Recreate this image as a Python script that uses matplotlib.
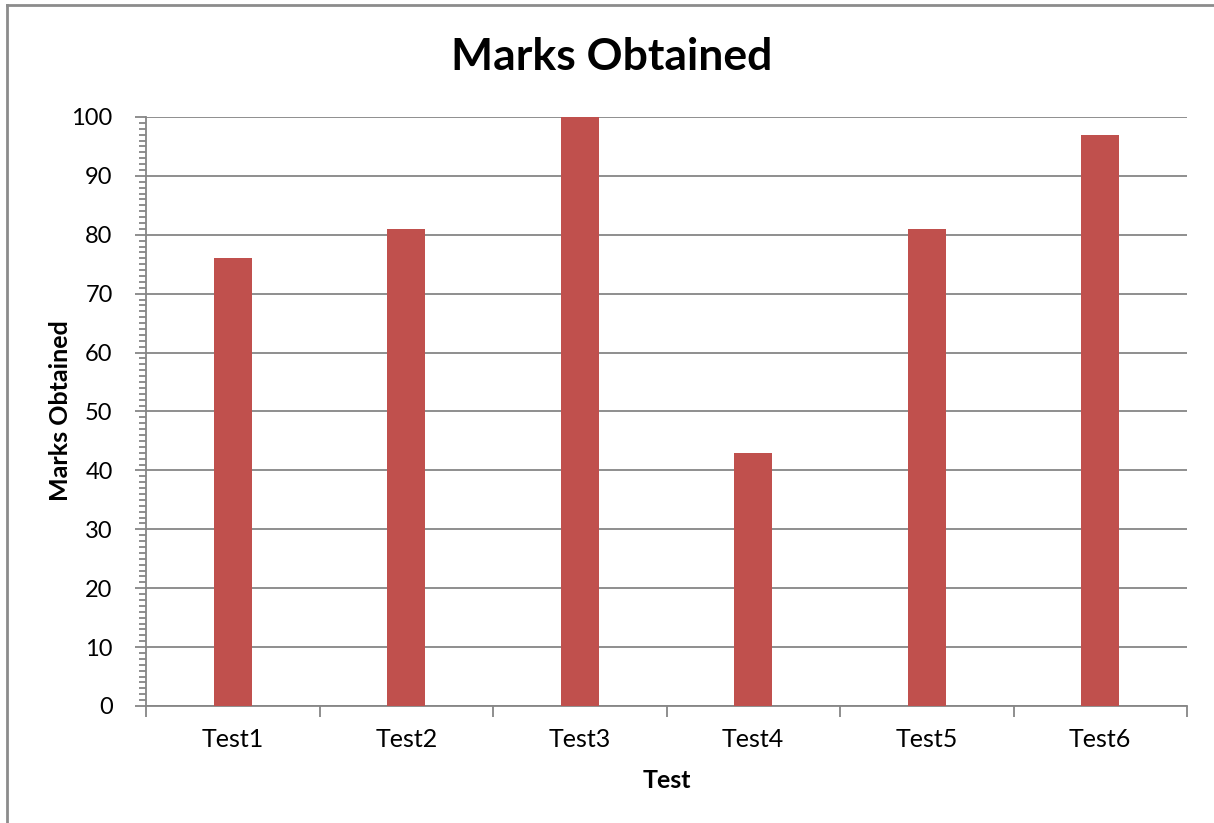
import matplotlib
matplotlib.use("Agg")
import matplotlib.pyplot as plt
from matplotlib.lines import Line2D
from matplotlib.ticker import MultipleLocator
import numpy as np

plt.rcParams['font.family'] = ['Lato', 'DejaVu Sans']

# data
tests = ["Test1", "Test2", "Test3", "Test4", "Test5", "Test6"]
marks = [76, 81, 100, 43, 81, 97]

grey = "#868686"
bar_col = "#C0504D"

fig = plt.figure(figsize=(12.14, 8.23), dpi=100)
ax = fig.add_axes([146/1214, 1-706/823, (1187-146)/1214, (706-117)/823])

x = np.arange(len(tests))
ax.bar(x, marks, width=0.22, color=bar_col, zorder=3)

ax.set_xlim(-0.5, len(tests)-0.5)
ax.set_ylim(0, 100)
ax.yaxis.set_major_locator(MultipleLocator(10))
ax.yaxis.set_minor_locator(MultipleLocator(1))
ax.grid(axis='y', color=grey, linewidth=1.3, zorder=0)

# category boundary ticks on x
ax.set_xticks(np.arange(-0.5, len(tests)), minor=False)
ax.set_xticklabels([])
ax.set_xticks(x, minor=True)
ax.set_xticklabels(tests, minor=True, fontsize=18)
ax.tick_params(axis='x', which='major', direction='out', length=8, width=1.3, color=grey)
ax.tick_params(axis='x', which='minor', length=0, pad=16)
ax.tick_params(axis='y', which='major', direction='out', length=8, width=1.3, color=grey,
               labelsize=17, pad=16)
ax.tick_params(axis='y', which='minor', direction='out', length=5, width=1.3, color=grey)

for s in ['top', 'right']:
    ax.spines[s].set_visible(False)
for s in ['left', 'bottom']:
    ax.spines[s].set_color(grey)
    ax.spines[s].set_linewidth(1.3)

fig.text(612/1214, 1-57/823, "Marks Obtained", fontsize=32, fontweight='bold',
         ha='center', va='center')
fig.text(667/1214, 1-780/823, "Test", fontsize=18, fontweight='bold',
         ha='center', va='center')
fig.text(60/1214, 1-411/823, "Marks Obtained", fontsize=18, fontweight='bold',
         ha='center', va='center', rotation=90)

# chart-area border (top and left visible)
fig.add_artist(Line2D([7/1214, 1], [1-5/823, 1-5/823], color="#8c8c8c", linewidth=2, transform=fig.transFigure))
fig.add_artist(Line2D([7/1214, 7/1214], [0, 1-5/823], color="#8c8c8c", linewidth=2, transform=fig.transFigure))

fig.savefig("out.png", dpi=100, facecolor='white')
